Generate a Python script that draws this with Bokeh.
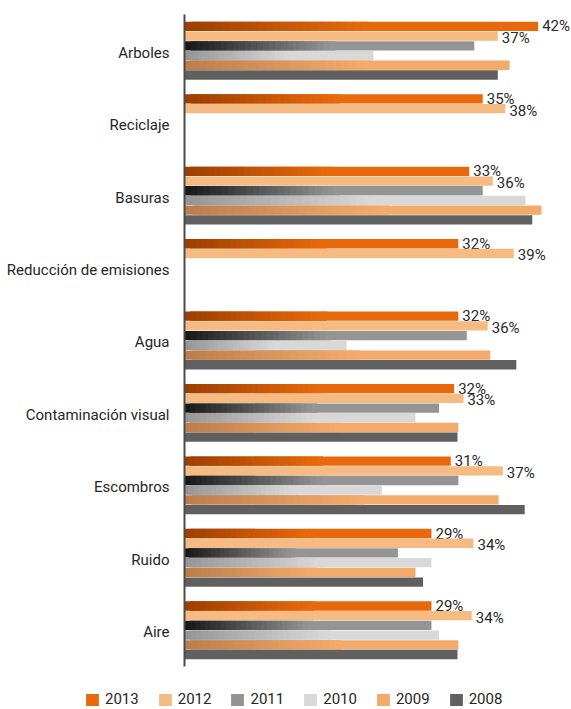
from bokeh.plotting import figure
from bokeh.models import ColumnDataSource, Range1d, Legend, LegendItem
from bokeh.core.properties import value
from bokeh.embed import file_html
from bokeh.resources import INLINE

# ---------------- data ----------------
categories = ["Arboles", "Reciclaje", "Basuras", "Reducción de emisiones", "Agua",
              "Contaminación visual", "Escombros", "Ruido", "Aire"]
years = ["2013", "2012", "2011", "2010", "2009", "2008"]
v2013 = [42.1, 35.5, 33.9, 32.6, 32.6, 32.1, 31.7, 29.4, 29.4]
v2012 = [37.3, 38.2, 36.7, 39.2, 36.1, 33.2, 37.9, 34.4, 34.2]
v2011 = [34.5, None, 35.5, None, 33.6, 30.3, 32.6, 25.4, 29.4]
v2010 = [22.5, None, 40.6, None, 19.3, 27.5, 23.5, 29.4, 30.3]
v2009 = [38.7, None, 42.5, None, 36.4, 32.6, 37.4, 27.5, 32.6]
v2008 = [37.3, None, 41.4, None, 39.5, 32.5, 40.5, 28.4, 32.5]
labeled_years = ["2013", "2012"]

series = [v2013, v2012, v2011, v2010, v2009, v2008]
# (start colour, end colour, gradient fraction of the bar)
styles = [("#9c3e00", "#e8690b", 0.5),
          ("#f6bb83", "#f6bb83", 0.0),
          ("#161616", "#949494", 0.5),
          ("#959595", "#d8d8d8", 0.55),
          ("#bb7d4c", "#f3ab6b", 0.55),
          ("#606060", "#606060", 0.0)]

W, H = 571, 709
PX = 8.4            # px per percent
X0 = 184            # px position of zero
BAND = 72.44        # px per category
TOP = 14
n = len(categories)
slot = 0.134
FONT_NAME = "Roboto"
FONT = value(FONT_NAME)

p = figure(width=W, height=H, output_backend="svg", toolbar_location=None,
           x_axis_type=None, y_axis_type=None,
           x_range=Range1d(-X0 / PX, (W - X0) / PX),
           y_range=Range1d(n - 0.5 - (H - TOP) / BAND, n - 0.5 + TOP / BAND),
           min_border=0, min_border_left=0, min_border_right=0,
           min_border_top=0, min_border_bottom=0)
p.outline_line_color = None
p.xgrid.visible = False
p.ygrid.visible = False


def hexrgb(h):
    h = h.lstrip("#")
    return tuple(int(h[i:i + 2], 16) for i in (0, 2, 4))


def mix(a, b, t):
    ra, rb = hexrgb(a), hexrgb(b)
    return "#%02x%02x%02x" % tuple(round(ra[i] + (rb[i] - ra[i]) * t) for i in range(3))


flat_renderers = []
N = 24
for k, (vals, (c0, c1, frac)) in enumerate(zip(series, styles)):
    ys_all = [(n - 1 - i) + (2.5 - k) * slot for i in range(n)]
    if frac > 0:
        L, R, Y, C = [], [], [], []
        for v, y in zip(vals, ys_all):
            if v is None:
                continue
            step = v * frac / N
            for j in range(N):
                L.append(j * step)
                R.append(min((j + 2) * step, v))
                Y.append(y)
                C.append(mix(c0, c1, (j + 0.5) / N))
        src = ColumnDataSource(dict(left=L, right=R, y=Y, c=C))
        p.hbar(y="y", left="left", right="right", height=slot * 0.96, fill_color="c",
               line_color=None, source=src)
    L, R, Y = [], [], []
    for v, y in zip(vals, ys_all):
        if v is None:
            continue
        L.append(v * frac)
        R.append(v)
        Y.append(y)
    src = ColumnDataSource(dict(left=L, right=R, y=Y))
    r = p.hbar(y="y", left="left", right="right", height=slot * 0.96, fill_color=c1,
               line_color=None, source=src)
    flat_renderers.append(r)
    if years[k] in labeled_years:
        X, Yl, T = [], [], []
        for v, y in zip(vals, ys_all):
            if v is None:
                continue
            X.append(v)
            Yl.append(y)
            T.append(f"{int(v)}%")
        p.text(x="x", y="y", text="t", source=ColumnDataSource(dict(x=X, y=Yl, t=T)),
               x_offset=4, y_offset=(0 if k == 0 else 2), text_align="left",
               text_baseline="middle", text_font=FONT, text_font_size="15px",
               text_color="#2a2a2a")

# axis line
p.segment(x0=[0], y0=[-0.5], x1=[0], y1=[n - 0.5], line_color="#4a4a4a", line_width=2)

# category labels
p.text(x=[0] * n, y=[n - 1 - i for i in range(n)], text=categories,
       x_offset=-15, y_offset=2, text_align="right", text_baseline="middle",
       text_font=FONT, text_font_size="15px", text_color="#262626")

legend = Legend(items=[LegendItem(label=y, renderers=[r]) for y, r in zip(years, flat_renderers)],
                orientation="horizontal", location=(84, 1), padding=0, margin=0,
                spacing=18, glyph_width=16, glyph_height=15, label_standoff=5,
                label_height=15, label_text_font=FONT_NAME, label_text_font_size="15px",
                label_text_color="#262626", border_line_color=None,
                background_fill_alpha=0)
p.add_layout(legend, "center")

open("out.html", "w").write(file_html(p, INLINE))
